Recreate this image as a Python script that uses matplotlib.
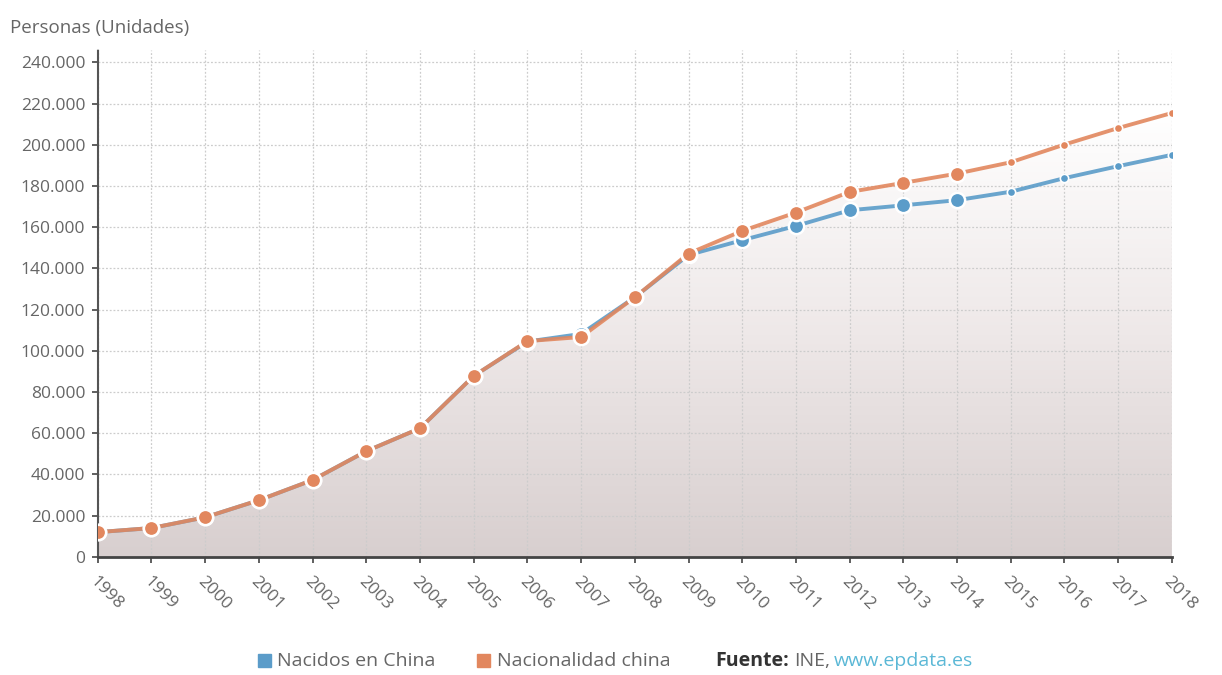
import matplotlib.pyplot as plt
import numpy as np
from matplotlib.ticker import FuncFormatter

years = list(range(1998, 2019))
nacidos = [12000, 14000, 19200, 27500, 37300, 51300, 62400, 87800, 104500, 108200, 126000,
           146500, 153700, 160600, 168200, 170600, 173100, 177200, 183800, 189600, 195100]
nacionalidad = [12000, 14000, 19200, 27500, 37300, 51300, 62400, 87800, 104700, 106700, 126000,
                147200, 158200, 167100, 177100, 181500, 186000, 191500, 200100, 208100, 215400]
yticks = list(range(0, 240001, 20000))

c_blue = '#5b9cc9'
c_orange = '#e2875e'
c_text = '#666666'

plt.rcParams['font.family'] = ['Open Sans', 'DejaVu Sans']

fig = plt.figure(figsize=(12.22, 6.75), dpi=100)
ax = fig.add_axes([0.080, 0.175, 0.879, 0.751])
ax.set_xlim(years[0], years[-1])
ax.set_ylim(0, 246000)

# relleno degradado bajo la curva superior
top = np.maximum(nacidos, nacionalidad)
grad = np.linspace(0, 1, 256).reshape(-1, 1)
cmap = plt.matplotlib.colors.LinearSegmentedColormap.from_list(
    'g', ['#d8cfcf', '#eee8e8', '#ffffff'])
img = ax.imshow(grad, extent=[years[0], years[-1], 0, 215000], origin='lower',
                aspect='auto', cmap=cmap, zorder=0)
poly = ax.fill_between(years, 0, top, color='none', lw=0)
img.set_clip_path(poly.get_paths()[0], transform=ax.transData)

ax.grid(True, color='#cccccc', linestyle=(0, (1.5, 1.5)), linewidth=0.9, zorder=1)
ax.set_axisbelow(True)

cut = years.index(2015)
for vals, col in [(nacidos, c_blue), (nacionalidad, c_orange)]:
    ax.plot(years, vals, color=col, lw=2.8, zorder=3, alpha=0.9)
    ax.plot(years[:cut], vals[:cut], 'o', ms=11, mfc=col, mec='white', mew=1.8, zorder=4)
    ax.plot(years[cut:], vals[cut:], 'o', ms=6, mfc=col, mec='white', mew=1.2, zorder=4)

ax.set_xticks(years)
ax.set_xticklabels([str(y) for y in years], rotation=-45, ha='left', va='top',
                   rotation_mode='anchor', fontsize=12.5, color=c_text)
ax.set_yticks(yticks)
ax.yaxis.set_major_formatter(FuncFormatter(lambda v, p: f'{int(v):,}'.replace(',', '.')))
ax.tick_params(axis='y', labelsize=12.5, labelcolor=c_text, length=4, width=1.2,
               color='#444444', pad=5)
ax.tick_params(axis='x', length=4, width=1.2, color='#444444', pad=8)

for s in ['top', 'right']:
    ax.spines[s].set_visible(False)
ax.spines['left'].set_color('#555555')
ax.spines['left'].set_linestyle((0, (1, 1)))
ax.spines['left'].set_linewidth(1.5)
ax.spines['bottom'].set_color('#444444')
ax.spines['bottom'].set_linewidth(2)

fig.text(0.008, 0.958, 'Personas (Unidades)', fontsize=13.5, color=c_text, va='center')

# fila de leyenda
ly = 0.021
fs = 14
fig.patches.append(plt.Rectangle((0.2111, ly - 0.0097), 0.0106, 0.0193, color=c_blue,
                                 transform=fig.transFigure, figure=fig))
fig.text(0.2267, ly, 'Nacidos en China', fontsize=fs, color=c_text, va='center')
fig.patches.append(plt.Rectangle((0.3903, ly - 0.0097), 0.0106, 0.0193, color=c_orange,
                                 transform=fig.transFigure, figure=fig))
fig.text(0.4067, ly, 'Nacionalidad china', fontsize=fs, color=c_text, va='center')
fig.text(0.5851, ly, 'Fuente:', fontsize=fs, color='#333333', va='center', weight='bold')
fig.text(0.6497, ly, 'INE,', fontsize=fs, color=c_text, va='center')
fig.text(0.6825, ly, 'www.epdata.es', fontsize=fs, color='#5bb8d6', va='center')

fig.savefig('out.png', dpi=100, facecolor='white')
